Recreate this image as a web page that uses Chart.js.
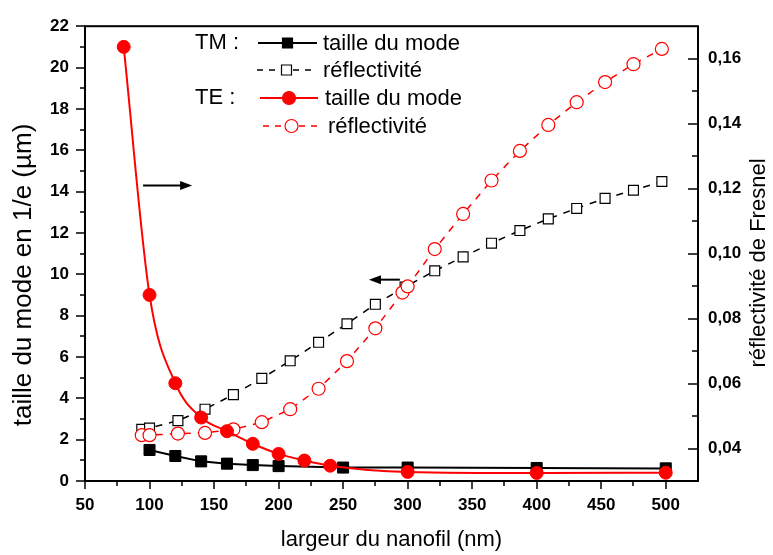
<!DOCTYPE html>
<html>
<head>
<meta charset="utf-8">
<script src="https://cdn.jsdelivr.net/npm/chart.js@4.4.0/dist/chart.umd.min.js"></script>
<style>
  html, body { margin: 0; padding: 0; background: #fff; }
</style>
</head>
<body>
<canvas id="graph" width="773" height="555"></canvas>
<script>
// mode size in 1/e (µm), left axis
const tmSizeX = [100, 120, 140, 160, 180, 200, 250, 300, 400, 500];
const tmSize = [1.50, 1.21, 0.95, 0.84, 0.77, 0.72, 0.65, 0.65, 0.63, 0.61];
const teSizeX = [80, 100, 120, 140, 160, 180, 200, 220, 240, 300, 400, 500];
const teSize = [21.0, 9.0, 4.73, 3.07, 2.41, 1.80, 1.31, 0.99, 0.74, 0.44, 0.39, 0.40];

// Fresnel reflectivity, right axis
const tmReflX = [94, 100, 122, 143, 165, 187, 209, 231, 253, 275, 298, 321, 343, 365, 387, 409, 431, 453, 475, 497];
const tmRefl = [0.0459, 0.0463, 0.0486, 0.0521, 0.0566, 0.0616, 0.0670, 0.0727, 0.0784, 0.0844, 0.0897,
                0.0947, 0.0990, 0.1032, 0.1071, 0.1107, 0.1139, 0.1170, 0.1195, 0.1222];
const teReflX = [94, 100, 122, 143, 165, 187, 209, 231, 253, 275, 296, 300, 321, 343, 365, 387, 409, 431, 453, 475, 497];
const teRefl = [0.0441, 0.0441, 0.0446, 0.0448, 0.0459, 0.0481, 0.0521, 0.0584, 0.0669, 0.0770, 0.0880, 0.0899,
                0.1014, 0.1122, 0.1225, 0.1316, 0.1396, 0.1466, 0.1528, 0.1583, 0.1630];

const xTicks = [50, 100, 150, 200, 250, 300, 350, 400, 450, 500];
const leftTicks = [0, 2, 4, 6, 8, 10, 12, 14, 16, 18, 20, 22];
const rightTicks = [0.04, 0.06, 0.08, 0.10, 0.12, 0.14, 0.16];

const FONT = '"Liberation Sans", Arial, sans-serif';
const RED = '#ff0000';

const pts = (xs, ys) => xs.map((v, i) => ({x: v, y: ys[i]}));
const setTicks = list => scale => { scale.ticks = list.map(v => ({value: v})); };

function marker(ctx, type, x, y, color) {
  ctx.save();
  ctx.lineWidth = 1.2;
  ctx.setLineDash([]);
  ctx.strokeStyle = color;
  ctx.beginPath();
  if (type === 'sq' || type === 'osq') ctx.rect(x - 5, y - 5, 10, 10);
  else ctx.arc(x, y, 6.5, 0, Math.PI * 2);
  ctx.fillStyle = (type === 'sq' || type === 'ci') ? color : '#fff';
  ctx.fill();
  ctx.stroke();
  ctx.restore();
}

function arrow(ctx, x1, x2, y) {
  const dir = Math.sign(x2 - x1);
  ctx.save();
  ctx.strokeStyle = '#000';
  ctx.fillStyle = '#000';
  ctx.lineWidth = 2;
  ctx.beginPath();
  ctx.moveTo(x1, y);
  ctx.lineTo(x2 - dir * 8, y);
  ctx.stroke();
  ctx.beginPath();
  ctx.moveTo(x2, y);
  ctx.lineTo(x2 - dir * 12, y - 4.5);
  ctx.lineTo(x2 - dir * 12, y + 4.5);
  ctx.closePath();
  ctx.fill();
  ctx.restore();
}

const decor = {
  id: 'decor',
  afterDraw(chart) {
    const {ctx, chartArea: a} = chart;
    const {x, y, y2} = chart.scales;
    ctx.save();
    // frame
    ctx.strokeStyle = '#000';
    ctx.lineWidth = 2;
    ctx.strokeRect(a.left, a.top, a.right - a.left, a.bottom - a.top);

    // tick marks
    ctx.lineWidth = 1.5;
    ctx.beginPath();
    for (let v = 50; v <= 500; v += 25) {
      const px = Math.round(x.getPixelForValue(v));
      ctx.moveTo(px, a.bottom);
      ctx.lineTo(px, a.bottom + (v % 50 === 0 ? 8 : 5));
    }
    for (let v = 0; v <= 22; v++) {
      const py = Math.round(y.getPixelForValue(v));
      ctx.moveTo(a.left, py);
      ctx.lineTo(a.left - (v % 2 === 0 ? 9 : 5), py);
    }
    for (let i = 0; i <= 12; i++) {
      const py = Math.round(y2.getPixelForValue(0.04 + i * 0.01));
      ctx.moveTo(a.right, py);
      ctx.lineTo(a.right - (i % 2 === 0 ? 10 : 6), py);
    }
    ctx.stroke();

    // axis titles
    ctx.fillStyle = '#000';
    ctx.textAlign = 'center';
    ctx.textBaseline = 'middle';
    ctx.font = '22px ' + FONT;
    ctx.fillText('largeur du nanofil (nm)', (a.left + a.right) / 2, 540);
    ctx.save();
    ctx.translate(24, 275);
    ctx.rotate(-Math.PI / 2);
    ctx.font = '26px ' + FONT;
    ctx.fillText('taille du mode en 1/e (µm)', 0, 0);
    ctx.restore();
    ctx.save();
    ctx.translate(759, 263);
    ctx.rotate(-Math.PI / 2);
    ctx.font = '22px ' + FONT;
    ctx.fillText('réflectivité de Fresnel', 0, 0);
    ctx.restore();

    // arrows pointing to the axis of each group
    arrow(ctx, x.getPixelForValue(95), x.getPixelForValue(133), y.getPixelForValue(14.3));
    arrow(ctx, x.getPixelForValue(294), x.getPixelForValue(270), y.getPixelForValue(9.74));

    // legend
    ctx.font = '22px ' + FONT;
    ctx.textAlign = 'left';
    ctx.fillText('TM :', 195, 43);
    ctx.fillText('TE :', 195, 98);
    const rows = [
      {y: 43, x0: 258, x1: 317, color: '#000', dash: [], m: 'sq', tx: 323, label: 'taille du mode'},
      {y: 70, x0: 257, x1: 316, color: '#000', dash: [6, 6], m: 'osq', tx: 323, label: 'réflectivité'},
      {y: 98, x0: 260, x1: 318, color: RED, dash: [], m: 'ci', tx: 325, label: 'taille du mode'},
      {y: 126, x0: 263, x1: 320, color: RED, dash: [6, 6], m: 'oci', tx: 328, label: 'réflectivité'}
    ];
    rows.forEach(r => {
      ctx.save();
      ctx.strokeStyle = r.color;
      ctx.lineWidth = r.dash.length ? 1.5 : 2;
      ctx.setLineDash(r.dash);
      ctx.beginPath();
      ctx.moveTo(r.x0, r.y);
      ctx.lineTo(r.x1, r.y);
      ctx.stroke();
      ctx.restore();
      marker(ctx, r.m, (r.x0 + r.x1) / 2, r.y, r.color);
      ctx.fillStyle = '#000';
      ctx.fillText(r.label, r.tx, r.y + 1);
    });
    ctx.restore();
  }
};

new Chart(document.getElementById('graph'), {
  type: 'line',
  data: {
    datasets: [
      {
        label: 'TE taille du mode',
        data: pts(teSizeX, teSize),
        yAxisID: 'y',
        borderColor: RED,
        backgroundColor: RED,
        borderWidth: 2,
        cubicInterpolationMode: 'monotone',
        pointStyle: 'circle',
        pointRadius: 6.5,
        pointBorderWidth: 1
      },
      {
        label: 'TM taille du mode',
        data: pts(tmSizeX, tmSize),
        yAxisID: 'y',
        borderColor: '#000',
        backgroundColor: '#000',
        borderWidth: 2,
        tension: 0,
        pointStyle: 'rect',
        pointRadius: 7.8,
        pointBorderWidth: 1
      },
      {
        label: 'TE réflectivité',
        data: pts(teReflX, teRefl),
        yAxisID: 'y2',
        borderColor: RED,
        backgroundColor: '#fff',
        borderWidth: 1.5,
        borderDash: [7, 7],
        tension: 0,
        pointStyle: 'circle',
        pointRadius: 6.5,
        pointBorderWidth: 1.2
      },
      {
        label: 'TM réflectivité',
        data: pts(tmReflX, tmRefl),
        yAxisID: 'y2',
        borderColor: '#000',
        backgroundColor: '#fff',
        borderWidth: 1.5,
        borderDash: [7, 7],
        tension: 0,
        pointStyle: 'rect',
        pointRadius: 7,
        pointBorderWidth: 1.2
      }
    ]
  },
  options: {
    responsive: false,
    animation: false,
    layout: {padding: {top: 16, left: 0, right: 0, bottom: 0}},
    plugins: {legend: {display: false}, tooltip: {enabled: false}},
    scales: {
      x: {
        type: 'linear',
        position: 'bottom',
        min: 50,
        max: 525,
        afterBuildTicks: setTicks(xTicks),
        afterFit: s => { s.height = 74; },
        grid: {display: false, drawTicks: false},
        border: {display: false},
        ticks: {padding: 14, color: '#000', font: {family: FONT, size: 17, weight: 'bold'}}
      },
      y: {
        type: 'linear',
        position: 'left',
        min: 0,
        max: 22,
        afterBuildTicks: setTicks(leftTicks),
        afterFit: s => { s.width = 85; },
        grid: {display: false, drawTicks: false},
        border: {display: false},
        ticks: {padding: 16, color: '#000', font: {family: FONT, size: 17, weight: 'bold'}}
      },
      y2: {
        type: 'linear',
        position: 'right',
        min: 0.03,
        max: 0.17,
        afterBuildTicks: setTicks(rightTicks),
        afterFit: s => { s.width = 75; },
        grid: {display: false, drawTicks: false},
        border: {display: false},
        ticks: {
          padding: 10, color: '#000', font: {family: FONT, size: 17, weight: 'bold'},
          callback: v => v.toFixed(2).replace('.', ',')
        }
      }
    }
  },
  plugins: [decor]
});
</script>
</body>
</html>
